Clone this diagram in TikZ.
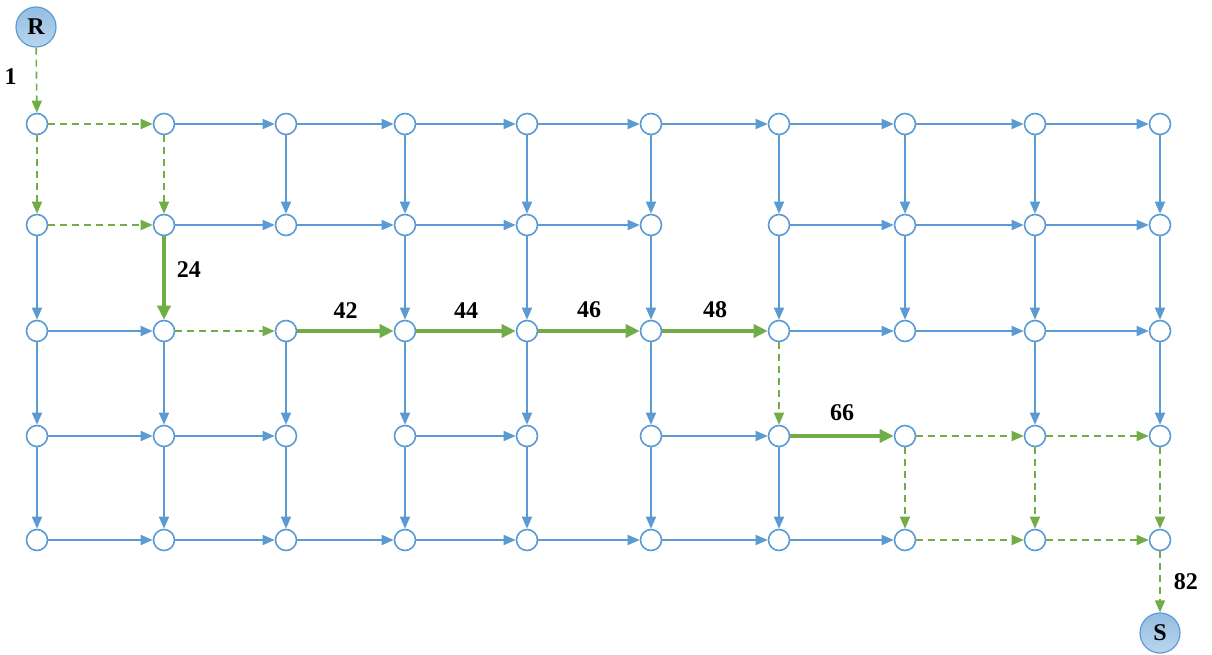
\documentclass[tikz,border=0pt]{standalone}
\usepackage{fontspec}
\setmainfont{Liberation Serif}
\usetikzlibrary{arrows.meta}
\definecolor{eblue}{RGB}{91,155,213}
\definecolor{egreen}{RGB}{112,173,71}
\definecolor{efill}{RGB}{157,195,230}
\tikzset{
  x=1pt, y=-1pt,
  vtx/.style={circle, draw=eblue, line width=1.6pt, fill=white, minimum size=21pt, inner sep=0pt},
  term/.style={circle, draw=eblue, line width=1.2pt, top color=efill!85!eblue, bottom color=efill!70!white, minimum size=40pt, inner sep=0pt, font=\fontsize{24}{24}\selectfont\bfseries},
  bl/.style={draw=eblue, line width=1.6pt, -{Triangle[length=12pt,width=10pt]}},
  gd/.style={draw=egreen, line width=1.6pt, dash pattern=on 7pt off 5pt, -{Triangle[length=12pt,width=10pt]}},
  gt/.style={draw=egreen, line width=3.6pt, -{Triangle[length=14pt,width=13pt]}},
  lbl/.style={font=\fontsize{24}{24}\selectfont\bfseries, inner sep=0pt, text=black}
}
\begin{document}
\begin{tikzpicture}
\useasboundingbox (0,0) rectangle (1212,654);
% grid nodes
\foreach \r/\y in {1/124,2/225,3/331,4/436,5/540}{
  \foreach \c/\x in {1/37,2/164,3/286,4/405,5/527,6/651,7/779,8/905,9/1035,10/1160}{
    \node[vtx] (n-\r-\c) at (\x,\y) {};
  }
}
\node[term] (R) at (36,27) {R};
\node[term] (S) at (1160,633) {S};
% blue horizontal edges
\foreach \r/\a/\b in {1/2/3,1/3/4,1/4/5,1/5/6,1/6/7,1/7/8,1/8/9,1/9/10,
  2/2/3,2/3/4,2/4/5,2/5/6,2/7/8,2/8/9,2/9/10,
  3/1/2,3/7/8,3/8/9,3/9/10,
  4/1/2,4/2/3,4/4/5,4/6/7,
  5/1/2,5/2/3,5/3/4,5/4/5,5/5/6,5/6/7,5/7/8}{
  \draw[bl] (n-\r-\a) -- (n-\r-\b);
}
% blue vertical edges
\foreach \a/\b/\c in {1/2/3,1/2/4,1/2/5,1/2/6,1/2/7,1/2/8,1/2/9,1/2/10,
  2/3/1,2/3/4,2/3/5,2/3/6,2/3/7,2/3/8,2/3/9,2/3/10,
  3/4/1,3/4/2,3/4/3,3/4/4,3/4/5,3/4/6,3/4/9,3/4/10,
  4/5/1,4/5/2,4/5/3,4/5/4,4/5/5,4/5/6,4/5/7}{
  \draw[bl] (n-\a-\c) -- (n-\b-\c);
}
% green dashed edges
\draw[gd] (R) -- node[lbl, pos=0.45, left=19pt] {1} (n-1-1);
\draw[gd] (n-1-1) -- (n-1-2);
\draw[gd] (n-1-1) -- (n-2-1);
\draw[gd] (n-1-2) -- (n-2-2);
\draw[gd] (n-2-1) -- (n-2-2);
\draw[gd] (n-3-2) -- (n-3-3);
\draw[gd] (n-3-7) -- (n-4-7);
\draw[gd] (n-4-8) -- (n-4-9);
\draw[gd] (n-4-9) -- (n-4-10);
\draw[gd] (n-4-8) -- (n-5-8);
\draw[gd] (n-4-9) -- (n-5-9);
\draw[gd] (n-4-10) -- (n-5-10);
\draw[gd] (n-5-8) -- (n-5-9);
\draw[gd] (n-5-9) -- (n-5-10);
\draw[gd] (n-5-10) -- node[lbl, right=13pt] {82} (S);
% green thick path
\draw[gt] (n-2-2) -- node[lbl, pos=0.4, right=11pt] {24} (n-3-2);
\draw[gt] (n-3-3) -- node[lbl, above=11pt] {42} (n-3-4);
\draw[gt] (n-3-4) -- node[lbl, above=11pt] {44} (n-3-5);
\draw[gt] (n-3-5) -- node[lbl, above=11pt] {46} (n-3-6);
\draw[gt] (n-3-6) -- node[lbl, above=11pt] {48} (n-3-7);
\draw[gt] (n-4-7) -- node[lbl, above=13pt] {66} (n-4-8);
\end{tikzpicture}
\end{document}
